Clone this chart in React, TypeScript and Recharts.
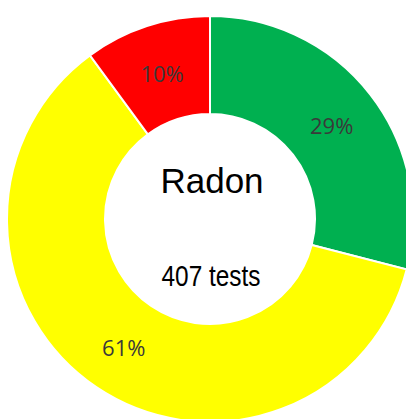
import { PieChart, Pie, Cell, Label } from "recharts";

const categories = ["Low", "Medium", "High"];
const counts = [118, 248, 41];
const colors = ["#00B050", "#FFFF00", "#FF0000"];
const title = "Radon";
const totalLabel = `${counts.reduce((a, b) => a + b, 0)} tests`;

const data = categories.map((name, i) => ({ name, value: counts[i] }));
const RADIAN = Math.PI / 180;
const CX = 210;
const CY = 219;

function renderPercent(props: any) {
  const { cx, cy, midAngle, innerRadius, outerRadius, percent } = props;
  const r = (innerRadius + outerRadius) / 2;
  const x = cx + r * Math.cos(-midAngle * RADIAN);
  const y = cy + r * Math.sin(-midAngle * RADIAN);
  return (
    <text
      x={x}
      y={y}
      fill="#3a3a3a"
      textAnchor="middle"
      dominantBaseline="central"
      fontFamily="'Open Sans', sans-serif"
      fontSize={22}
    >
      {`${Math.round(percent * 100)}%`}
    </text>
  );
}

function CenterText() {
  return (
    <g fontFamily="'Liberation Sans', Arial, sans-serif" fill="#000">
      <text x={CX + 2} y={CY - 26} textAnchor="middle" fontSize={35}>
        {title}
      </text>
      <text
        x={CX + 1}
        y={CY + 67}
        textAnchor="middle"
        fontSize={30}
        textLength={99}
        lengthAdjust="spacingAndGlyphs"
      >
        {totalLabel}
      </text>
    </g>
  );
}

export default function App() {
  return (
    <div style={{ position: "fixed", top: 0, left: 0, width: 406, height: 419, background: "#fff" }}>
      <PieChart width={406} height={419} margin={{ top: 0, right: 0, bottom: 0, left: 0 }}>
        <Pie
          data={data}
          dataKey="value"
          cx={CX}
          cy={CY}
          innerRadius={105}
          outerRadius={203}
          startAngle={90}
          endAngle={-270}
          stroke="#fff"
          strokeWidth={2}
          label={renderPercent}
          labelLine={false}
          isAnimationActive={false}
        >
          {data.map((d, i) => (
            <Cell key={d.name} fill={colors[i]} />
          ))}
          <Label position="center" content={CenterText} />
        </Pie>
      </PieChart>
    </div>
  );
}
